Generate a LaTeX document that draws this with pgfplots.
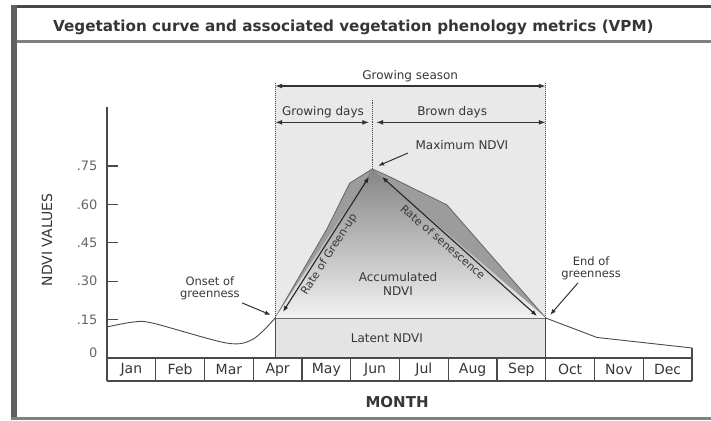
\documentclass[border=0pt]{standalone}
\usepackage{pgfplots}
\pgfplotsset{compat=1.18}
\usepackage{fontspec}
\setmainfont{DejaVu Sans}
\usetikzlibrary{arrows.meta}
\definecolor{txt}{HTML}{363636}
\definecolor{seasonbg}{HTML}{E9E9E9}
\definecolor{latent}{HTML}{E4E4E4}
\definecolor{band}{HTML}{9C9C9C}
\definecolor{gradtop}{HTML}{858585}
\definecolor{gradbot}{HTML}{F2F2F2}
\definecolor{ln}{HTML}{4A4A4A}
\begin{document}
\begin{tikzpicture}
\begin{scope}[x=1pt,y=1pt]
\path (0,0) rectangle (711,-420);
\fill[black!72] (11,-5) rectangle (711,-8.5);
\fill[black!62] (11,-5) rectangle (16.5,-420);
\fill[black!50] (11,-416.5) rectangle (711,-420);
\fill[black!50] (16.5,-40.5) rectangle (711,-43);
\node[anchor=west, inner sep=0pt, text=txt, font=\bfseries\fontsize{15.2}{17}\selectfont] at (53,-27.5) {Vegetation curve and associated vegetation phenology metrics (VPM)};
\end{scope}
\begin{axis}[
  at={(107pt,-381pt)}, anchor=south west, scale only axis,
  width=585pt, height=274pt,
  xmin=0, xmax=12, ymin=-0.09, ymax=0.98,
  clip=false,
  axis lines*=left,
  axis line style={ln, line width=1.2pt},
  xtick={0.5,1.5,2.5,3.5,4.5,5.5,6.5,7.5,8.5,9.5,10.5,11.5},
  xticklabels={Jan,Feb,Mar,Apr,May,Jun,Jul,Aug,Sep,Oct,Nov,Dec},
  x tick style={draw=none},
  xticklabel style={anchor=center, yshift=11.5pt, font=\fontsize{14}{16}\selectfont, text=txt},
  ytick={0.15,0.30,0.45,0.60,0.75},
  yticklabels={.15,.30,.45,.60,.75},
  ytick align=inside,
  major tick length=11pt,
  y tick style={ln, line width=1.2pt},
  yticklabel style={xshift=-6pt, font=\fontsize{13}{15}\selectfont, text=black!60},
  extra y ticks={0},
  extra y tick labels={0},
  extra y tick style={tick style={draw=none}, yticklabel style={yshift=5pt}},
]
% growing-season background
\fill[seasonbg] (axis cs:3.45,0) rectangle (axis cs:9,1.062);
% latent NDVI
\addplot[fill=latent, draw=ln, line width=1pt] coordinates {(3.45,0) (3.45,0.156) (9,0.156) (9,0)};
% NDVI curve band inside the season
\addplot[fill=band, draw=black!60, line width=0.8pt] coordinates {
 (3.45,0.156) (4.50,0.50) (4.98,0.683) (5.44,0.738) (5.75,0.712) (6.97,0.598) (9,0.156)} -- cycle;
% accumulated NDVI
\addplot[draw=none, top color=gradtop, bottom color=gradbot] coordinates {
 (3.45,0.156) (5.44,0.738) (9,0.156)} -- cycle;
% NDVI curve outside the season
\addplot[ln, line width=0.9pt, smooth, tension=0.5] coordinates {
 (0,0.121) (0.53,0.14) (0.94,0.136) (2.46,0.058) (3.0,0.074) (3.45,0.156)};
\addplot[ln, line width=0.9pt] coordinates {(9,0.156) (10.05,0.080) (12,0.039)};
% month boxes
\draw[ln, line width=1.3pt] (axis cs:0,0) -- (axis cs:12,0);
\draw[ln, line width=1.1pt] (axis cs:12,-0.09) -- (axis cs:12,0.039);
\pgfplotsinvokeforeach{1,...,11}{\draw[ln, line width=1.2pt] (axis cs:#1,-0.09) -- (axis cs:#1,0);}
\draw[ln, line width=1.3pt] (axis cs:9,-0.09) -- (axis cs:9,0.156);
% dotted limits
\draw[ln, densely dotted, line width=1pt] (axis cs:3.45,0.156) -- (axis cs:3.45,1.075);
\draw[ln, densely dotted, line width=1pt] (axis cs:9,0.156) -- (axis cs:9,1.075);
\draw[ln, densely dotted, line width=0.9pt] (axis cs:5.44,0.738) -- (axis cs:5.44,1.01);
% season arrows
\draw[{Latex[length=7pt,width=5pt]}-{Latex[length=7pt,width=5pt]}, black!80, line width=1.3pt] (axis cs:3.45,1.062) -- (axis cs:9,1.062);
\draw[{Latex[length=7pt,width=5pt]}-{Latex[length=7pt,width=5pt]}, black!80, line width=1.3pt] (axis cs:3.45,0.92) -- (axis cs:5.38,0.92);
\draw[{Latex[length=7pt,width=5pt]}-{Latex[length=7pt,width=5pt]}, black!80, line width=1.3pt] (axis cs:5.52,0.92) -- (axis cs:9,0.92);
\node[text=txt, font=\fontsize{12}{14}\selectfont] at (axis cs:6.22,1.10) {Growing season};
\node[text=txt, font=\fontsize{12}{14}\selectfont] at (axis cs:4.43,0.958) {Growing days};
\node[text=txt, font=\fontsize{12}{14}\selectfont] at (axis cs:7.08,0.958) {Brown days};
% rate arrows
\draw[{Latex[length=6pt,width=4.5pt]}-{Latex[length=6pt,width=4.5pt]}, black!85, line width=1.1pt] (axis cs:3.61,0.18) -- (axis cs:5.374,0.707);
\draw[{Latex[length=6pt,width=4.5pt]}-{Latex[length=6pt,width=4.5pt]}, black!85, line width=1.1pt] (axis cs:5.641,0.707) -- (axis cs:8.82,0.164);
\node[anchor=north, rotate=57.5, text=txt, font=\fontsize{11}{13}\selectfont, inner sep=2pt] at (axis cs:4.43,0.42) {Rate of Green-up};
\node[anchor=north, rotate=-40.7, text=txt, font=\fontsize{11}{13}\selectfont, inner sep=2pt] at (axis cs:6.98,0.472) {Rate of senescence};
\node[text=txt, align=center, font=\fontsize{12}{14}\selectfont] at (axis cs:5.97,0.29) {Accumulated\\NDVI};
\node[text=txt, font=\fontsize{12}{14}\selectfont] at (axis cs:5.74,0.078) {Latent NDVI};
% maximum NDVI
\node[text=txt, font=\fontsize{12}{14}\selectfont] at (axis cs:7.28,0.83) {Maximum NDVI};
\draw[-{Latex[length=6pt,width=4.5pt]}, black!80, line width=1pt] (axis cs:6.17,0.80) -- (axis cs:5.56,0.75);
% onset / end
\node[text=txt, align=center, font=\fontsize{11.5}{12}\selectfont] at (axis cs:2.11,0.273) {Onset of\\greenness};
\draw[-{Latex[length=6pt,width=4.5pt]}, black!80, line width=1pt] (axis cs:2.77,0.215) -- (axis cs:3.36,0.168);
\node[text=txt, align=center, font=\fontsize{11.5}{12}\selectfont] at (axis cs:9.93,0.35) {End of\\greenness};
\draw[-{Latex[length=6pt,width=4.5pt]}, black!80, line width=1pt] (axis cs:9.66,0.293) -- (axis cs:9.09,0.168);
% axis titles
\node[rotate=90, text=txt, font=\fontsize{14}{16}\selectfont] at (axis cs:-1.23,0.46) {NDVI VALUES};
\node[text=txt, font=\bfseries\fontsize{15}{17}\selectfont] at (axis cs:5.95,-0.172) {MONTH};
\end{axis}
\end{tikzpicture}
\end{document}
